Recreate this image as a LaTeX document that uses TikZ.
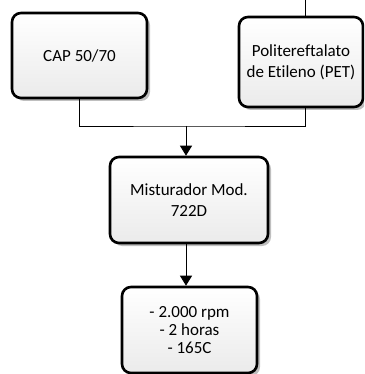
\documentclass[tikz,border=0pt]{standalone}
\usepackage{fontspec}
\setmainfont[Ligatures=NoCommon]{Carlito}
\usetikzlibrary{shadows,arrows.meta}
\begin{document}
\begin{tikzpicture}[x=1pt,y=-1pt,
  box/.style={draw=black, line width=2.6pt, rounded corners=9pt, align=center,
    top color=white, bottom color=black!8, inner sep=2pt,
    font=\fontsize{17}{21}\selectfont,
    drop shadow={shadow xshift=3pt, shadow yshift=-3pt, fill=black, opacity=0.25}},
  conn/.style={draw=black, line width=0.9pt},
  arr/.style={conn, -{Triangle[length=10pt,width=12pt]}}]
\useasboundingbox (0,0) rectangle (364,374);
\begin{scope}
\clip (0,0) rectangle (364,374);
\node[box, minimum width=135pt, minimum height=85pt] (cap) at (79.5,55.5) {CAP 50/70};
\node[box, minimum width=124pt, minimum height=90pt] (pet) at (301,62) {Politereftalato\\de Etileno (PET)};
\node[box, minimum width=158pt, minimum height=86pt] (mix) at (189,200) {Misturador Mod.\\722D};
\node[box, minimum width=135pt, minimum height=86pt, font=\fontsize{17}{18}\selectfont] (par) at (189.5,330) {- 2.000 rpm\\- 2 horas\\- 165C};
\coordinate (top) at (305,0);
\coordinate (j) at (186,126);
\draw[conn] (top) -- (top |- pet.north);
\draw[conn] (cap.south) |- (j) -| (305,0 |- pet.south);
\draw[arr] (j) -- (j |- mix.north);
\draw[arr] (j |- mix.south) -- (j |- par.north);
\end{scope}
\end{tikzpicture}
\end{document}
